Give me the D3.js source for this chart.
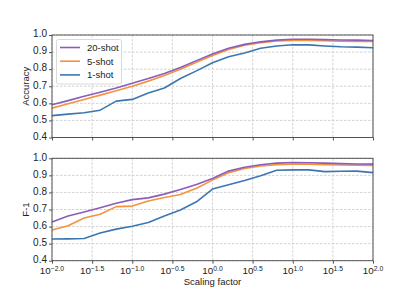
<!DOCTYPE html>
<html><head><meta charset="utf-8">
<script src="https://cdn.jsdelivr.net/npm/d3@7"></script>
<style>body{margin:0;background:#fff}svg{display:block}text{font-family:"Liberation Sans",Arial,sans-serif;fill:#222}</style>
</head><body><svg id="c" width="415" height="298"></svg>
<script>
const logX = [-2.0,-1.8,-1.6,-1.4,-1.2,-1.0,-0.8,-0.6,-0.4,-0.2,0.0,0.2,0.4,0.6,0.8,1.0,1.2,1.4,1.6,1.8,2.0];
const seriesNames = ["20-shot","5-shot","1-shot"];
const accShot20 = [0.592,0.616,0.641,0.665,0.69,0.718,0.745,0.775,0.81,0.85,0.889,0.922,0.945,0.96,0.97,0.975,0.975,0.973,0.971,0.97,0.968];
const accShot5  = [0.572,0.597,0.622,0.648,0.674,0.70,0.73,0.763,0.80,0.84,0.88,0.915,0.94,0.955,0.965,0.968,0.968,0.966,0.963,0.962,0.962];
const accShot1  = [0.528,0.537,0.545,0.56,0.613,0.623,0.66,0.69,0.745,0.79,0.838,0.873,0.895,0.922,0.936,0.943,0.942,0.936,0.931,0.929,0.925];
const f1Shot20  = [0.627,0.662,0.685,0.71,0.737,0.758,0.768,0.79,0.817,0.847,0.882,0.925,0.948,0.962,0.972,0.975,0.974,0.972,0.969,0.967,0.966];
const f1Shot5   = [0.58,0.605,0.65,0.672,0.717,0.72,0.75,0.77,0.788,0.825,0.872,0.915,0.94,0.955,0.963,0.965,0.965,0.962,0.961,0.96,0.958];
const f1Shot1   = [0.527,0.528,0.53,0.562,0.585,0.602,0.624,0.662,0.697,0.745,0.82,0.845,0.87,0.898,0.93,0.932,0.932,0.922,0.924,0.925,0.916];
const yTicks = [0.4,0.5,0.6,0.7,0.8,0.9,1.0];
const xTickExps = ["-2.0","-1.5","-1.0","-0.5","0.0","0.5","1.0","1.5","2.0"];
const colors = ["#8a5db8","#f5923e","#3c76b2"];

const svg = d3.select("#c");
const L = 52, R = 373;
const x = d3.scaleLinear().domain([-2,2]).range([L,R]);
const panels = [
  {top:35, bot:137.5, label:"Accuracy", data:[accShot20,accShot5,accShot1], xlabels:false, legend:true},
  {top:158.3, bot:260.7, label:"F-1", data:[f1Shot20,f1Shot5,f1Shot1], xlabels:true, legend:false}
];
panels.forEach(p=>{
  const y = d3.scaleLinear().domain([0.4,1.0]).range([p.bot,p.top]);
  const g = svg.append("g");
  g.selectAll(".gx").data(xTickExps).enter().append("line")
    .attr("x1",d=>x(+d)).attr("x2",d=>x(+d)).attr("y1",p.top).attr("y2",p.bot)
    .attr("stroke","#c8c8c8").attr("stroke-width",0.8).attr("stroke-dasharray","2.5,1.5");
  g.selectAll(".gy").data(yTicks).enter().append("line")
    .attr("y1",d=>y(d)).attr("y2",d=>y(d)).attr("x1",L).attr("x2",R)
    .attr("stroke","#c8c8c8").attr("stroke-width",0.8).attr("stroke-dasharray","2.5,1.5");
  const ya = d3.axisLeft(y).tickValues(yTicks).tickFormat(d3.format(".1f")).tickSize(3).tickPadding(2);
  const yg = g.append("g").attr("transform",`translate(${L},0)`).call(ya);
  yg.select(".domain").remove();
  yg.selectAll("line").attr("stroke","#555");
  yg.selectAll("text").style("font-size","10px").attr("fill","#222").attr("dy","0.18em");
  const xa = d3.axisBottom(x).tickValues(xTickExps.map(Number)).tickSize(3).tickFormat("");
  const xg = g.append("g").attr("transform",`translate(0,${p.bot})`).call(xa);
  xg.select(".domain").remove();
  xg.selectAll("line").attr("stroke","#555");
  if(p.xlabels){
    xTickExps.forEach(e=>{
      const t = g.append("text").attr("x",x(+e)).attr("y",p.bot+13.5).attr("text-anchor","middle").style("font-size","9.8px");
      t.append("tspan").text("10");
      t.append("tspan").text(e.replace("-","\u2212")).style("font-size","6.8px").attr("dy","-3");
    });
  }
  const line = d3.line().x((d,i)=>x(logX[i])).y(d=>y(d));
  p.data.slice().reverse().forEach((s,k)=>{
    const idx = 2-k;
    g.append("path").datum(s).attr("d",line).attr("fill","none")
      .attr("stroke",colors[idx]).attr("stroke-width",1.6).attr("stroke-linejoin","round");
  });
  g.append("rect").attr("x",L).attr("y",p.top).attr("width",R-L).attr("height",p.bot-p.top)
    .attr("fill","none").attr("stroke","#444").attr("stroke-width",0.9);
  g.append("text").attr("transform",`translate(29,${(p.top+p.bot)/2}) rotate(-90)`)
    .attr("text-anchor","middle").style("font-size","9.5px").text(p.label);
  if(p.legend){
    const lg = g.append("g");
    lg.append("rect").attr("x",56.5).attr("y",39.5).attr("width",65).attr("height",44.5).attr("rx",2)
      .attr("fill","#fff").attr("fill-opacity",0.85).attr("stroke","#d0d0d0").attr("stroke-width",0.8);
    seriesNames.forEach((n,i)=>{
      const yy = 47.5 + i*13.7;
      lg.append("line").attr("x1",60).attr("x2",80).attr("y1",yy).attr("y2",yy).attr("stroke",colors[i]).attr("stroke-width",1.6);
      lg.append("text").attr("x",87).attr("y",yy).attr("dy","0.36em").style("font-size","9.5px").text(n);
    });
  }
});
svg.append("text").attr("x",212.5).attr("y",285).attr("text-anchor","middle").style("font-size","9.5px").text("Scaling factor");
</script></body></html>
